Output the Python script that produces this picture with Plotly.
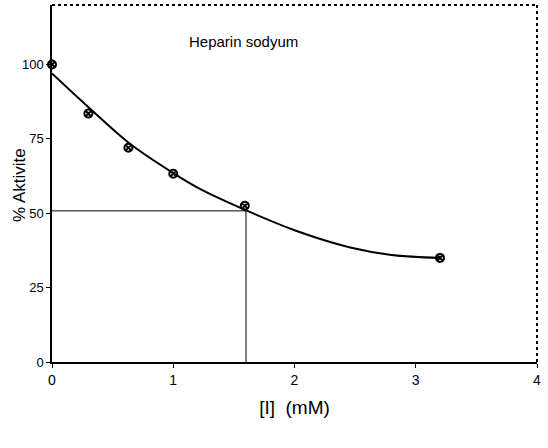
import plotly.graph_objects as go

# Measured points
conc = [0.0, 0.3, 0.63, 1.0, 1.59, 3.2]
activity = [100.0, 83.5, 72.0, 63.3, 52.5, 35.0]

# Fitted curve
curve_x = [0.0, 0.31, 0.635, 1.0, 1.22, 1.6, 2.0, 2.46, 2.8, 3.2]
curve_y = [97.0, 85.3, 73.6, 63.5, 58.2, 51.0, 44.3, 38.5, 36.0, 35.0]

# IC50 guide
ic50_x = 1.6
ic50_y = 50.8

x_ticks = [0, 1, 2, 3, 4]
y_ticks = [0, 25, 50, 75, 100]

fig = go.Figure()

fig.add_trace(go.Scatter(x=[0, ic50_x], y=[ic50_y, ic50_y], mode="lines",
                         line=dict(color="black", width=1), showlegend=False))
fig.add_trace(go.Scatter(x=[ic50_x, ic50_x], y=[0, ic50_y], mode="lines",
                         line=dict(color="black", width=1), showlegend=False))
fig.add_trace(go.Scatter(x=curve_x, y=curve_y, mode="lines",
                         line=dict(color="black", width=2, shape="spline", smoothing=1.0),
                         showlegend=False))
fig.add_trace(go.Scatter(x=conc, y=activity, mode="markers",
                         marker=dict(symbol="circle-x-open", size=8, color="black",
                                     line=dict(width=2, color="black")),
                         showlegend=False, cliponaxis=False))

fig.add_annotation(x=1.11, y=107.7, text="Heparin sodyum", showarrow=False,
                   xanchor="left", yanchor="middle",
                   font=dict(family="Arial, Liberation Sans", size=15, color="black"))

# y-axis title placed closer to the tick labels
fig.add_annotation(xref="paper", yref="paper", x=-0.066, y=0.496,
                   text="% Aktivite", showarrow=False, textangle=-90,
                   xanchor="center", yanchor="middle",
                   font=dict(family="Arial, Liberation Sans", size=17, color="black"))

# dotted top and right frame
fig.add_shape(type="line", xref="paper", yref="paper", x0=0, x1=1, y0=1, y1=1,
              line=dict(color="black", width=2, dash="dot"))
fig.add_shape(type="line", xref="paper", yref="paper", x0=1, x1=1, y0=0, y1=1,
              line=dict(color="black", width=2, dash="dot"))

fig.update_layout(
    width=548, height=448,
    margin=dict(l=52, r=11, t=5, b=86),
    paper_bgcolor="white", plot_bgcolor="white",
    font=dict(family="Arial, Liberation Sans", color="black", size=12),
    xaxis=dict(range=[0, 4], tickvals=x_ticks, showgrid=False, zeroline=False,
               showline=True, linecolor="black", linewidth=1.5,
               ticks="outside", ticklen=4, tickcolor="black",
               tickfont=dict(size=14),
               title=dict(text="[I]  (mM)", font=dict(size=19), standoff=14)),
    yaxis=dict(range=[0, 120], tickvals=y_ticks, showgrid=False, zeroline=False,
               showline=True, linecolor="black", linewidth=1.5,
               ticks="outside", ticklen=4, tickcolor="black",
               tickfont=dict(size=13)),
)

fig.write_html("out.html")
